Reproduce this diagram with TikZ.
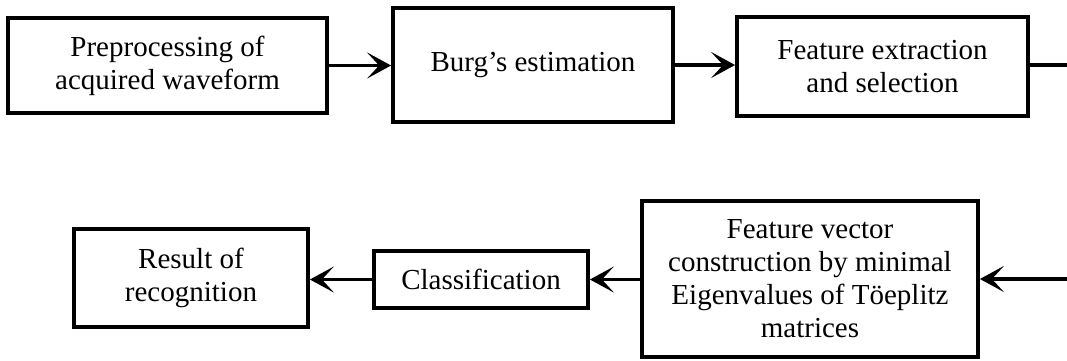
\documentclass[tikz,border=0pt]{standalone}
\usepackage{fontspec}
\setmainfont{Liberation Serif}
\usetikzlibrary{arrows.meta}

\begin{document}
\begin{tikzpicture}[x=0.5pt,y=-0.5pt,
  block/.style={draw,line width=1.9pt,inner sep=0pt,align=center,
    font=\fontsize{14.5}{16.5}\selectfont},
  flow/.style={line width=1.6pt,-{Stealth[length=12pt,width=13pt,inset=6pt]}}]
\useasboundingbox (0,0) rectangle (1067,360);

\node[block,minimum width=159.5pt,minimum height=47.5pt] (pre) at (167.5,65.5) {Preprocessing of\\acquired waveform};
\node[block,minimum width=140pt,minimum height=57pt] (burg) at (533,65) {Burg’s estimation};
\node[block,minimum width=145.5pt,minimum height=49.5pt] (feat) at (882.5,66.5) {Feature extraction\\and selection};

\node[block,minimum width=168pt,minimum height=78pt] (vec) at (810,279) {Feature vector\\construction by minimal\\Eigenvalues of Töeplitz\\matrices};
\node[block,minimum width=107pt,minimum height=28.5pt] (cls) at (481,279.5) {Classification};
\node[block,minimum width=117pt,minimum height=49pt] (res) at (191,278) {Result of\\recognition};

\coordinate (outR) at (1067,65);
\coordinate (inR) at (1067,279);

\draw[flow] (pre.east) -- (pre.east -| burg.west);
\draw[flow] (burg.east) -- (burg.east -| feat.west);
\draw[line width=1.6pt] (feat.east |- outR) -- (outR);

\draw[flow] (inR) -- (inR -| vec.east);
\draw[flow] (vec.west |- cls.east) -- (cls.east);
\draw[flow] (cls.west) -- (cls.west -| res.east);

\end{tikzpicture}
\end{document}
